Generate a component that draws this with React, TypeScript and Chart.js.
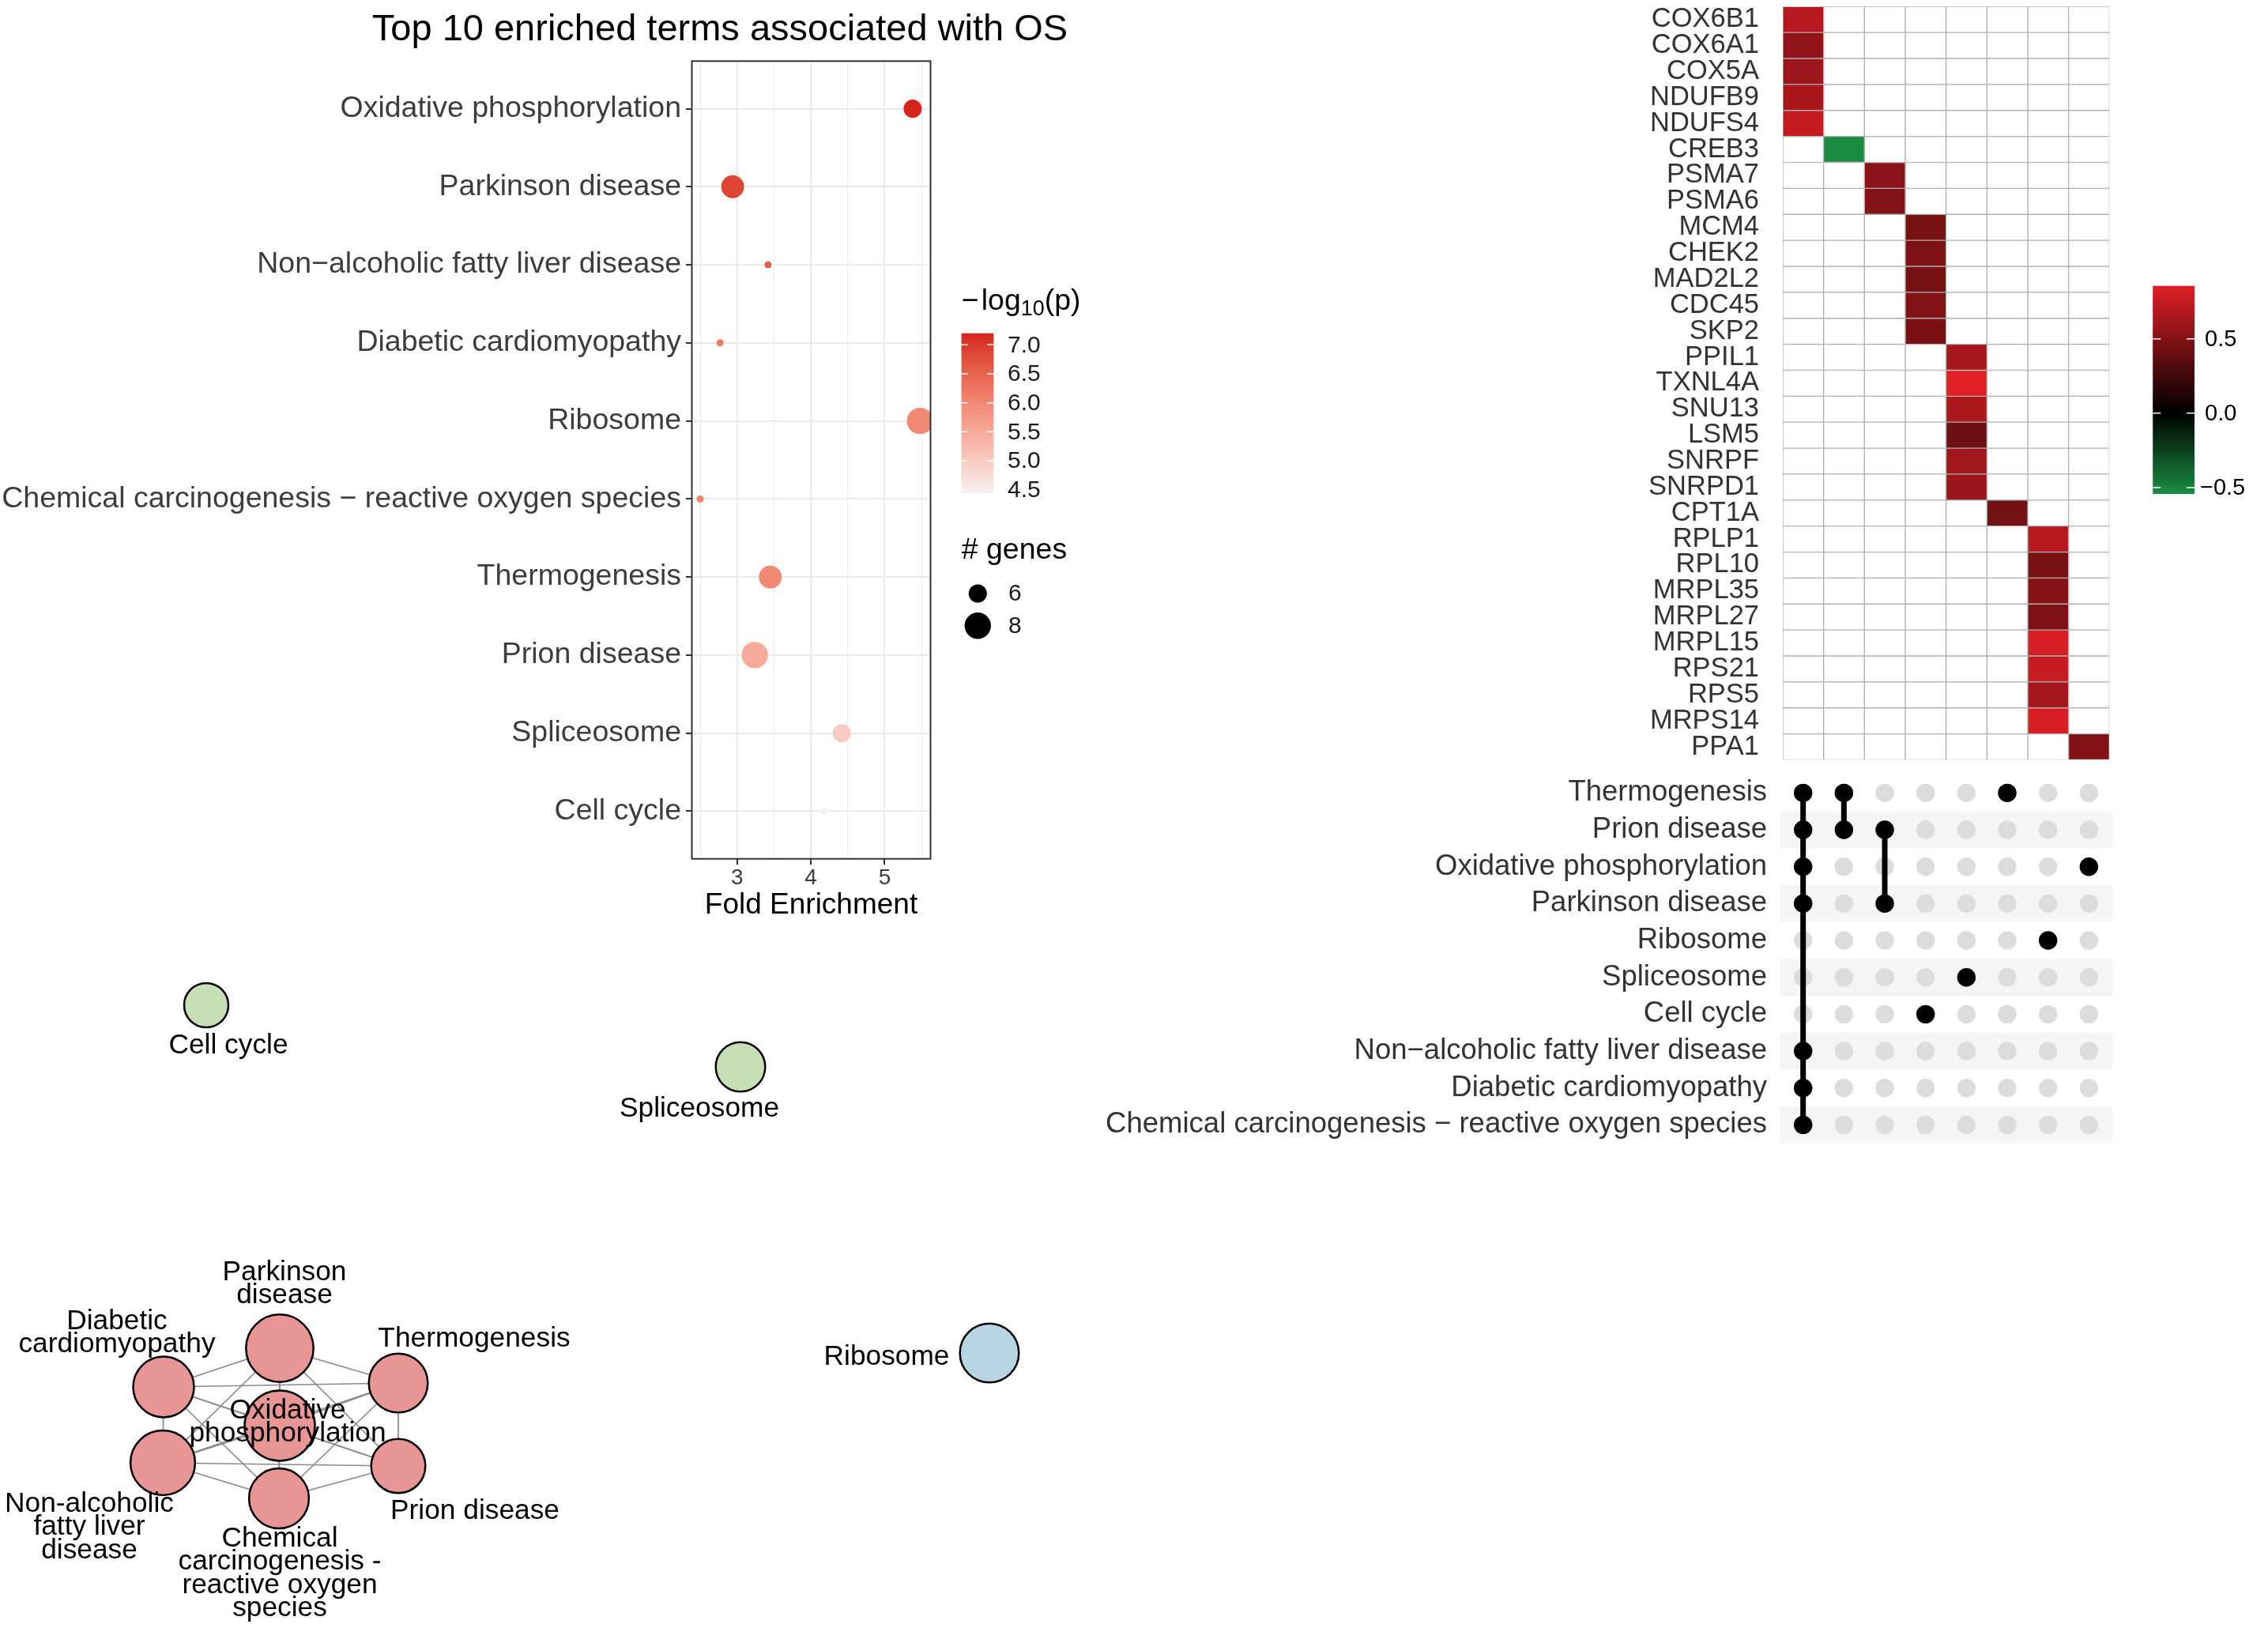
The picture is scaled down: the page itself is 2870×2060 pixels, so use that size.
import React, { useEffect, useRef } from 'react';
import { Chart, registerables } from 'chart.js';

Chart.register(...registerables);

const FONT = "'Liberation Sans', Arial, Helvetica, sans-serif";
Chart.defaults.font.family = FONT;

// ================= Panel A: enrichment bubble chart =================
const plotTitle = 'Top 10 enriched terms associated with OS';
const enrichTerms = [
  'Oxidative phosphorylation',
  'Parkinson disease',
  'Non\u2212alcoholic fatty liver disease',
  'Diabetic cardiomyopathy',
  'Ribosome',
  'Chemical carcinogenesis \u2212 reactive oxygen species',
  'Thermogenesis',
  'Prion disease',
  'Spliceosome',
  'Cell cycle',
];
const foldEnrichment = [5.38, 2.94, 3.42, 2.77, 5.48, 2.5, 3.45, 3.24, 4.42, 4.18];
const negLog10P = [7.2, 6.9, 6.6, 6.2, 6.0, 6.1, 6.0, 5.5, 5.0, 4.45];
const geneCounts = [6, 7, 5, 5, 8, 5, 7, 8, 6, 5];
const foldRange = [2.387, 5.622];
const foldMajorTicks = [3, 4, 5];
const foldMinorTicks = [2.5, 3.5, 4.5, 5.5];
const pLegendTicks = [4.5, 5.0, 5.5, 6.0, 6.5, 7.0];
const geneLegendTicks = [6, 8];

// ================= Panel B: gene heatmap =================
const heatGenes = [
  'COX6B1', 'COX6A1', 'COX5A', 'NDUFB9', 'NDUFS4', 'CREB3', 'PSMA7', 'PSMA6',
  'MCM4', 'CHEK2', 'MAD2L2', 'CDC45', 'SKP2', 'PPIL1', 'TXNL4A', 'SNU13', 'LSM5',
  'SNRPF', 'SNRPD1', 'CPT1A', 'RPLP1', 'RPL10', 'MRPL35', 'MRPL27', 'MRPL15',
  'RPS21', 'RPS5', 'MRPS14', 'PPA1',
];
const heatGeneColumn = [0, 0, 0, 0, 0, 1, 2, 2, 3, 3, 3, 3, 3, 4, 4, 4, 4, 4, 4, 5, 6, 6, 6, 6, 6, 6, 6, 6, 7];
const heatValues = [
  0.69, 0.55, 0.6, 0.64, 0.75, -0.539, 0.53, 0.5,
  0.46, 0.48, 0.46, 0.5, 0.47, 0.63, 0.856, 0.65, 0.42,
  0.61, 0.59, 0.44, 0.69, 0.46, 0.52, 0.48, 0.82,
  0.76, 0.63, 0.82, 0.5,
];
const heatColumnCount = 8;
const heatLegendTicks = [0.5, 0.0, -0.5];

// ================= Panel C: term/gene-set intersection matrix =================
const upsetTerms = [
  'Thermogenesis',
  'Prion disease',
  'Oxidative phosphorylation',
  'Parkinson disease',
  'Ribosome',
  'Spliceosome',
  'Cell cycle',
  'Non\u2212alcoholic fatty liver disease',
  'Diabetic cardiomyopathy',
  'Chemical carcinogenesis \u2212 reactive oxygen species',
];
// rows (index into upsetTerms) that are members of each column
const upsetColumns = [
  [0, 1, 2, 3, 7, 8, 9],
  [0, 1],
  [1, 3],
  [6],
  [5],
  [0],
  [4],
  [2],
];

// ================= Panel D: term network =================
const netNodeTerm = [
  'Cell cycle',
  'Spliceosome',
  'Ribosome',
  'Parkinson disease',
  'Diabetic cardiomyopathy',
  'Thermogenesis',
  'Oxidative phosphorylation',
  'Non\u2212alcoholic fatty liver disease',
  'Chemical carcinogenesis \u2212 reactive oxygen species',
  'Prion disease',
];
const netLabels = [
  ['Cell cycle'],
  ['Spliceosome'],
  ['Ribosome'],
  ['Parkinson', 'disease'],
  ['Diabetic', 'cardiomyopathy'],
  ['Thermogenesis'],
  ['Oxidative', 'phosphorylation'],
  ['Non-alcoholic', 'fatty liver', 'disease'],
  ['Chemical', 'carcinogenesis -', 'reactive oxygen', 'species'],
  ['Prion disease'],
];
// layout coordinates (graph layout units)
const netX = [26.1, 93.7, 125.2, 35.4, 20.7, 50.4, 35.4, 20.6, 35.3, 50.4];
const netY = [5.2, 13.0, 49.2, 48.6, 53.5, 53.0, 58.4, 63.1, 67.6, 63.5];
const netGroup = [1, 1, 2, 0, 0, 0, 0, 0, 0, 0];

// ----- styles (kept out of the data) -----
const netGroupColors = ['#e89596', '#c6dfb4', '#b9d4e2'];
const netLabelOffsets = [
  [28, 51], [-52, 53], [-130, 5], [6, -96], [-59, -83],
  [96, -56], [10, -19], [-93, 52], [1, 51], [97, 57],
];

// ================= helpers =================
const clamp = (t: number) => Math.max(0, Math.min(1, t));
const mix = (a: number[], b: number[], t: number) => a.map((v, i) => v + (b[i] - v) * t);
const rgbStr = (c: number[]) => `rgb(${Math.round(c[0])},${Math.round(c[1])},${Math.round(c[2])})`;

function s2l(c: number) { c /= 255; return c <= 0.04045 ? c / 12.92 : Math.pow((c + 0.055) / 1.055, 2.4); }
function l2s(c: number) { const v = c <= 0.0031308 ? 12.92 * c : 1.055 * Math.pow(c, 1 / 2.4) - 0.055; return Math.max(0, Math.min(1, v)) * 255; }
function rgb2lab(c: number[]) {
  const R = s2l(c[0]), G = s2l(c[1]), B = s2l(c[2]);
  const X = (0.4124 * R + 0.3576 * G + 0.1805 * B) / 0.95047;
  const Y = 0.2126 * R + 0.7152 * G + 0.0722 * B;
  const Z = (0.0193 * R + 0.1192 * G + 0.9505 * B) / 1.08883;
  const f = (t: number) => (t > 0.008856 ? Math.cbrt(t) : 7.787 * t + 16 / 116);
  const fx = f(X), fy = f(Y), fz = f(Z);
  return [116 * fy - 16, 500 * (fx - fy), 200 * (fy - fz)];
}
function lab2rgb(c: number[]) {
  const fy = (c[0] + 16) / 116, fx = fy + c[1] / 500, fz = fy - c[2] / 200;
  const fi = (t: number) => (t * t * t > 0.008856 ? t * t * t : (t - 16 / 116) / 7.787);
  const X = fi(fx) * 0.95047, Y = fi(fy), Z = fi(fz) * 1.08883;
  return [
    l2s(3.2406 * X - 1.5372 * Y - 0.4986 * Z),
    l2s(-0.9689 * X + 1.8758 * Y + 0.0415 * Z),
    l2s(0.0557 * X - 0.204 * Y + 1.057 * Z),
  ];
}

const pLow = [246, 241, 240];
const pHigh = [214, 35, 30];
const pMin = Math.min(...negLog10P);
const pMax = Math.max(...negLog10P);
const pLabLow = rgb2lab(pLow), pLabHigh = rgb2lab(pHigh);
function pColor(v: number) {
  return rgbStr(lab2rgb(mix(pLabLow, pLabHigh, clamp((v - pMin) / (pMax - pMin)))));
}
const nMin = Math.min(...geneCounts);
const nMax = Math.max(...geneCounts);
function geneRadius(n: number) {
  return 4.5 + 12.2 * Math.sqrt(clamp((n - nMin) / (nMax - nMin)));
}

const heatRed = [224, 31, 38];
const heatGreen = [26, 140, 66];
const heatBlack = [0, 0, 0];
const hMin = Math.min(...heatValues);
const hMax = Math.max(...heatValues);
function heatColor(v: number) {
  return v >= 0 ? rgbStr(mix(heatBlack, heatRed, clamp(v / hMax))) : rgbStr(mix(heatBlack, heatGreen, clamp(v / hMin)));
}

function nodeRadius(termName: string) {
  const v = negLog10P[enrichTerms.indexOf(termName)];
  return 28 + (v - pMin) * 6.0;
}

// ================= chart factories =================
function makeBubble(canvas: HTMLCanvasElement) {
  const extras = {
    id: 'bubbleExtras',
    afterDraw(chart: any) {
      const { ctx, chartArea: a } = chart;
      ctx.save();
      ctx.strokeStyle = '#333333';
      ctx.lineWidth = 2;
      ctx.strokeRect(a.left, a.top, a.right - a.left, a.bottom - a.top);

      ctx.fillStyle = '#000';
      ctx.textAlign = 'center';
      ctx.textBaseline = 'alphabetic';
      ctx.font = `47px ${FONT}`;
      ctx.fillText(plotTitle, 911, 51);

      // colour legend title: −log10(p)
      ctx.textAlign = 'left';
      let x = 1216.7;
      ctx.font = `37.5px ${FONT}`;
      ctx.fillText('\u2212', x, 391.7);
      x = 1241.7;
      ctx.fillText('log', x, 391.7);
      x += ctx.measureText('log').width;
      ctx.font = `27px ${FONT}`;
      ctx.fillText('10', x, 398.5);
      x += ctx.measureText('10').width;
      ctx.font = `37.5px ${FONT}`;
      ctx.fillText('(p)', x, 391.7);

      // colour bar
      const x0 = 1216.7, x1 = 1257.3, y0 = 421.7, y1 = 623.3;
      const barY = (v: number) => y1 - ((v - pMin) / (pMax - pMin)) * (y1 - y0);
      const N = 120;
      for (let k = 0; k < N; k++) {
        const v = pMin + ((pMax - pMin) * (k + 0.5)) / N;
        ctx.fillStyle = pColor(v);
        const ya = y1 - ((y1 - y0) * (k + 1)) / N;
        ctx.fillRect(x0, ya, x1 - x0, (y1 - y0) / N + 0.8);
      }
      ctx.strokeStyle = '#ffffff';
      ctx.lineWidth = 1.5;
      ctx.font = `30px ${FONT}`;
      ctx.textBaseline = 'middle';
      pLegendTicks.forEach((t) => {
        const y = barY(t);
        ctx.beginPath();
        ctx.moveTo(x0, y); ctx.lineTo(x0 + 8, y);
        ctx.moveTo(x1 - 8, y); ctx.lineTo(x1, y);
        ctx.stroke();
        ctx.fillStyle = '#1a1a1a';
        ctx.fillText(t.toFixed(1), 1275, y + 1);
      });

      // size legend
      ctx.fillStyle = '#000';
      ctx.textBaseline = 'alphabetic';
      ctx.font = `37.5px ${FONT}`;
      ctx.fillText('# genes', 1216.7, 706.7);
      const dotY = [751, 791.7];
      geneLegendTicks.forEach((n, i) => {
        ctx.fillStyle = '#000';
        ctx.beginPath();
        ctx.arc(1237.3, dotY[i], geneRadius(n), 0, Math.PI * 2);
        ctx.fill();
        ctx.fillStyle = '#1a1a1a';
        ctx.font = `30px ${FONT}`;
        ctx.textBaseline = 'middle';
        ctx.fillText(String(n), 1276, dotY[i] + 1);
      });
      ctx.restore();
    },
  };
  return new Chart(canvas, {
    type: 'bubble',
    data: {
      datasets: [
        {
          data: enrichTerms.map((_, i) => ({ x: foldEnrichment[i], y: i + 1, r: geneRadius(geneCounts[i]) })),
          backgroundColor: negLog10P.map(pColor),
          borderWidth: 0,
          hoverBorderWidth: 0,
        } as any,
      ],
    },
    options: {
      animation: false,
      responsive: false,
      maintainAspectRatio: false,
      events: [],
      layout: { padding: { left: 0, top: 77.3, right: 242.5, bottom: 0 }, autoPadding: false } as any,
      plugins: { legend: { display: false }, tooltip: { enabled: false } },
      scales: {
        x: {
          type: 'linear',
          min: foldRange[0],
          max: foldRange[1],
          afterBuildTicks: (s: any) => {
            s.ticks = [...foldMinorTicks, ...foldMajorTicks].sort((a, b) => a - b).map((v) => ({ value: v }));
          },
          afterFit: (s: any) => { s.height = 113.3; s.paddingLeft = 0; s.paddingRight = 0; },
          ticks: {
            callback: (v: any) => (foldMajorTicks.includes(Number(v)) ? String(v) : ''),
            font: { size: 28 },
            color: '#3d3d3d',
            padding: 0,
            maxRotation: 0,
            minRotation: 0,
            autoSkip: false,
          },
          grid: {
            color: '#ebebeb',
            lineWidth: (c: any) => (foldMajorTicks.includes(c.tick?.value) ? 2 : 1),
            tickLength: 7.5,
            tickColor: (c: any) => (foldMajorTicks.includes(c.tick?.value) ? '#333333' : 'rgba(0,0,0,0)'),
            tickWidth: 2,
          },
          border: { display: false },
          title: {
            display: true,
            text: 'Fold Enrichment',
            font: { size: 37 },
            color: '#000',
            padding: { top: 0, bottom: 32 },
          },
        } as any,
        y: {
          type: 'linear',
          min: 0.39,
          max: 10.61,
          reverse: true,
          afterBuildTicks: (s: any) => { s.ticks = enrichTerms.map((_, i) => ({ value: i + 1 })); },
          afterFit: (s: any) => { s.width = 875.5; s.paddingTop = 0; s.paddingBottom = 0; },
          ticks: {
            callback: (v: any) => enrichTerms[Math.round(Number(v)) - 1],
            font: { size: 37.5 },
            color: '#3d3d3d',
            padding: 6,
            autoSkip: false,
          },
          grid: { color: '#ebebeb', lineWidth: 2, tickLength: 7.5, tickColor: '#333333', tickWidth: 2 },
          border: { display: false },
        } as any,
      },
    },
    plugins: [extras],
  });
}

function makeHeatmap(canvas: HTMLCanvasElement) {
  const extras = {
    id: 'heatExtras',
    afterDraw(chart: any) {
      const { ctx } = chart;
      ctx.save();
      const x0 = 824.3, x1 = 877, y0 = 361.7, y1 = 624.3;
      const barY = (v: number) => y0 + ((hMax - v) / (hMax - hMin)) * (y1 - y0);
      const N = 160;
      for (let k = 0; k < N; k++) {
        const v = hMax - ((hMax - hMin) * (k + 0.5)) / N;
        ctx.fillStyle = heatColor(v);
        ctx.fillRect(x0, y0 + ((y1 - y0) * k) / N, x1 - x0, (y1 - y0) / N + 0.8);
      }
      ctx.strokeStyle = '#ffffff';
      ctx.lineWidth = 1.5;
      ctx.font = `29px ${FONT}`;
      ctx.textAlign = 'left';
      ctx.textBaseline = 'middle';
      heatLegendTicks.forEach((t) => {
        const y = barY(t);
        ctx.beginPath();
        ctx.moveTo(x0, y); ctx.lineTo(x0 + 10, y);
        ctx.moveTo(x1 - 10, y); ctx.lineTo(x1, y);
        ctx.stroke();
        ctx.fillStyle = '#000';
        const s = t < 0 ? '\u2212' + Math.abs(t).toFixed(1) : t.toFixed(1);
        ctx.fillText(s, t < 0 ? 884 : 890, y + 1);
      });
      ctx.restore();
    },
  };
  const datasets = Array.from({ length: heatColumnCount }, (_, c) => ({
    data: heatGenes.map(() => [c, c + 1]),
    backgroundColor: heatGenes.map((_, i) => (heatGeneColumn[i] === c ? heatColor(heatValues[i]) : '#ffffff')),
    borderColor: '#b0b0b0',
    borderWidth: 1,
    borderSkipped: false,
    grouped: false,
    categoryPercentage: 1,
    barPercentage: 1,
  }));
  return new Chart(canvas, {
    type: 'bar',
    data: { labels: heatGenes, datasets: datasets as any },
    options: {
      animation: false,
      responsive: false,
      maintainAspectRatio: false,
      events: [],
      indexAxis: 'y',
      layout: { padding: { left: 0, top: 8.3, right: 200.7, bottom: 18.5 } },
      plugins: { legend: { display: false }, tooltip: { enabled: false } },
      scales: {
        x: { type: 'linear', min: 0, max: heatColumnCount, display: false },
        y: {
          type: 'category',
          afterFit: (s: any) => { s.width = 356; s.paddingTop = 0; s.paddingBottom = 0; },
          ticks: { font: { size: 34.5 }, color: '#333333', padding: 22, autoSkip: false },
          grid: { display: false },
          border: { display: false },
        } as any,
      },
    },
    plugins: [extras],
  });
}

function makeUpset(canvas: HTMLCanvasElement) {
  const stripes = {
    id: 'stripes',
    beforeDatasetsDraw(chart: any) {
      const { ctx, chartArea: a, scales } = chart;
      const y = scales.y;
      ctx.save();
      ctx.fillStyle = '#f5f5f5';
      upsetTerms.forEach((_, i) => {
        if (i % 2 === 1) {
          const ya = y.getPixelForValue(i + 0.5);
          const yb = y.getPixelForValue(i + 1.5);
          ctx.fillRect(a.left, Math.min(ya, yb), a.right - a.left, Math.abs(yb - ya));
        }
      });
      ctx.restore();
    },
  };
  const members: { x: number; y: number }[] = [];
  upsetColumns.forEach((rows, c) => rows.forEach((r) => members.push({ x: c + 1, y: r + 1 })));
  const allDots: { x: number; y: number }[] = [];
  upsetColumns.forEach((_, c) => upsetTerms.forEach((_, r) => allDots.push({ x: c + 1, y: r + 1 })));
  const lineSets = upsetColumns
    .map((rows, c) => ({ rows, c }))
    .filter((o) => o.rows.length > 1)
    .map((o) => ({
      type: 'line',
      data: [
        { x: o.c + 1, y: Math.min(...o.rows) + 1 },
        { x: o.c + 1, y: Math.max(...o.rows) + 1 },
      ],
      borderColor: '#000000',
      borderWidth: 7,
      pointRadius: 0,
      showLine: true,
    }));
  return new Chart(canvas, {
    type: 'scatter',
    data: {
      datasets: [
        { data: members, backgroundColor: '#000000', borderWidth: 0, pointRadius: 11.7, pointHoverRadius: 11.7 },
        ...lineSets,
        { data: allDots, backgroundColor: '#dcdcdc', borderWidth: 0, pointRadius: 11.7, pointHoverRadius: 11.7 },
      ] as any,
    },
    options: {
      animation: false,
      responsive: false,
      maintainAspectRatio: false,
      events: [],
      layout: { padding: { left: 0, top: 20, right: 196.7, bottom: 13.3 }, autoPadding: false } as any,
      plugins: { legend: { display: false }, tooltip: { enabled: false } },
      scales: {
        x: { type: 'linear', min: 0.4388, max: 8.58, display: false },
        y: {
          type: 'linear',
          min: 0.5,
          max: 10.5,
          reverse: true,
          afterBuildTicks: (s: any) => { s.ticks = upsetTerms.map((_, i) => ({ value: i + 1 })); },
          afterFit: (s: any) => { s.width = 872.7; s.paddingTop = 0; s.paddingBottom = 0; },
          ticks: {
            callback: (v: any) => upsetTerms[Math.round(Number(v)) - 1],
            font: { size: 36.5 },
            color: '#333333',
            padding: 8.7,
            autoSkip: false,
          },
          grid: { display: false },
          border: { display: false },
        } as any,
      },
    },
    plugins: [stripes],
  });
}

function makeNetwork(canvas: HTMLCanvasElement) {
  const labels = {
    id: 'netLabels',
    afterDatasetsDraw(chart: any) {
      const { ctx, scales } = chart;
      ctx.save();
      ctx.fillStyle = '#000';
      ctx.font = `35.3px ${FONT}`;
      ctx.textAlign = 'center';
      ctx.textBaseline = 'middle';
      netLabels.forEach((lines, i) => {
        const px = scales.x.getPixelForValue(netX[i]);
        const py = scales.y.getPixelForValue(netY[i]);
        const [dx, dy] = netLabelOffsets[i];
        lines.forEach((line, j) => ctx.fillText(line, px + dx, py + dy + j * 29.5));
      });
      ctx.restore();
    },
  };
  const edges: [number, number][] = [];
  for (let a = 0; a < netNodeTerm.length; a++) {
    for (let b = a + 1; b < netNodeTerm.length; b++) {
      const ra = upsetTerms.indexOf(netNodeTerm[a]);
      const rb = upsetTerms.indexOf(netNodeTerm[b]);
      if (upsetColumns.some((col) => col.includes(ra) && col.includes(rb))) edges.push([a, b]);
    }
  }
  const edgeSets = edges.map(([a, b]) => ({
    type: 'line',
    data: [
      { x: netX[a], y: netY[a] },
      { x: netX[b], y: netY[b] },
    ],
    borderColor: '#8a8a8a',
    borderWidth: 1.7,
    pointRadius: 0,
    showLine: true,
  }));
  return new Chart(canvas, {
    type: 'bubble',
    data: {
      datasets: [
        {
          data: netNodeTerm.map((t, i) => ({ x: netX[i], y: netY[i], r: nodeRadius(t) })),
          backgroundColor: netGroup.map((g) => netGroupColors[g]),
          borderColor: '#000000',
          borderWidth: 2.5,
        },
        ...edgeSets,
      ] as any,
    },
    options: {
      animation: false,
      responsive: false,
      maintainAspectRatio: false,
      events: [],
      layout: { padding: 0, autoPadding: false } as any,
      plugins: { legend: { display: false }, tooltip: { enabled: false } },
      scales: {
        x: { type: 'linear', min: 0, max: 140, display: false },
        y: { type: 'linear', min: 0, max: 84, reverse: true, display: false },
      },
    },
    plugins: [labels],
  });
}

function ChartBox(props: { left: number; top: number; width: number; height: number; make: (c: HTMLCanvasElement) => Chart }) {
  const ref = useRef<HTMLCanvasElement>(null);
  useEffect(() => {
    const chart = props.make(ref.current as HTMLCanvasElement);
    return () => chart.destroy();
  }, []);
  return (
    <canvas
      ref={ref}
      width={props.width}
      height={props.height}
      style={{ position: 'absolute', left: props.left, top: props.top, width: props.width, height: props.height }}
    />
  );
}

export default function App() {
  useEffect(() => {
    document.body.style.margin = '0';
    document.body.style.background = '#ffffff';
  }, []);
  return (
    <div style={{ position: 'absolute', left: 0, top: 0, width: 2870, height: 2060, background: '#ffffff', overflow: 'hidden' }}>
      <ChartBox left={0} top={0} width={1420} height={1200} make={makeBubble} />
      <ChartBox left={1900} top={0} width={970} height={980} make={makeHeatmap} />
      <ChartBox left={1380} top={960} width={1490} height={500} make={makeUpset} />
      <ChartBox left={0} top={1220} width={1400} height={840} make={makeNetwork} />
    </div>
  );
}
